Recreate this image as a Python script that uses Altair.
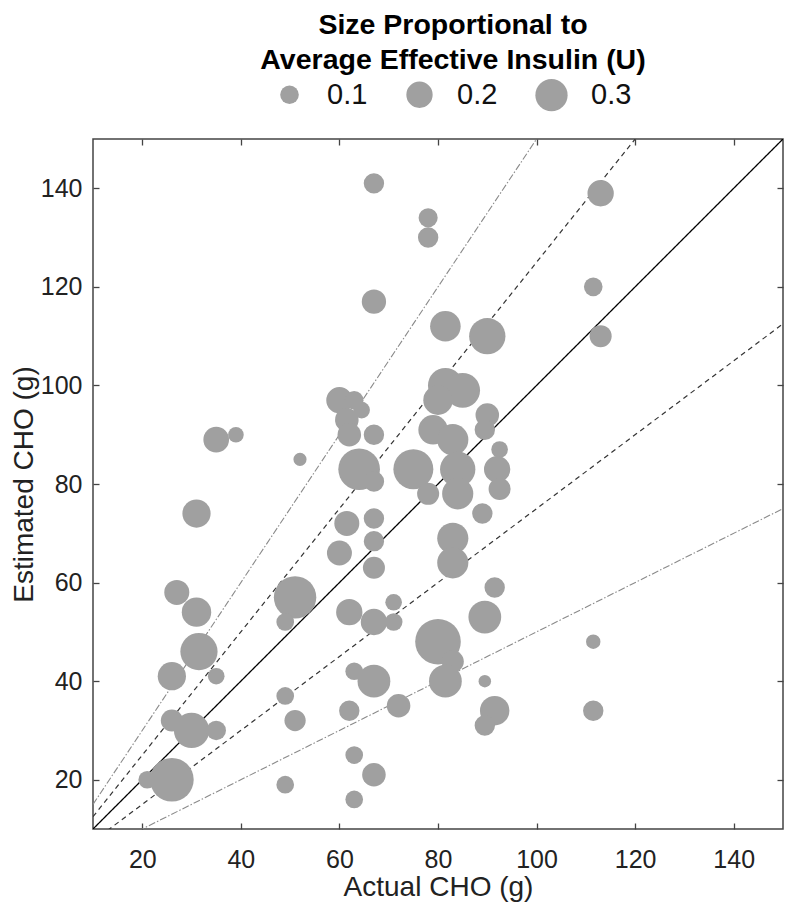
import altair as alt
import pandas as pd

# ---- data ----
actual = [21, 26, 26, 30, 35, 26, 31.5, 35, 31, 27, 31, 35, 39, 52, 51, 49, 49, 51, 49,
          62, 67, 71, 71, 80, 83, 81.5, 89.5, 89.5, 91.5, 89.5, 63, 67, 72, 62, 63, 67, 63,
          60, 63, 64.5, 61.5, 62, 67, 64, 67, 61.5, 67, 67, 67, 60, 75, 78,
          81.5, 85, 80, 79, 90, 89.5, 83, 84, 84, 92.5, 92, 92.5, 89, 83, 83, 91.5,
          67, 78, 78, 67, 81.5, 90, 113, 111.5, 113, 111.5, 111.5]
estimated = [20, 20, 32, 30, 30, 41, 46, 41, 54, 58, 74, 89, 90, 85, 57, 52, 37, 32, 19,
             54, 52, 52, 56, 48, 44, 40, 53, 40, 34, 31, 42, 40, 35, 34, 25, 21, 16,
             97, 97, 95, 93, 90, 90, 83, 80.5, 72, 73, 68.4, 63, 66, 83, 78,
             100, 99, 97, 91, 94, 91, 89, 83, 78, 87, 83, 79, 74, 69, 64, 59,
             141, 134, 130, 117, 112, 110, 139, 120, 110, 48, 34]
insulin = [0.09, 0.55, 0.14, 0.36, 0.11, 0.23, 0.40, 0.08, 0.25, 0.18, 0.23, 0.19, 0.07, 0.05, 0.52, 0.09, 0.09, 0.13, 0.09,
           0.20, 0.20, 0.09, 0.08, 0.60, 0.14, 0.31, 0.31, 0.045, 0.25, 0.12, 0.09, 0.31, 0.16, 0.12, 0.09, 0.16, 0.09,
           0.20, 0.10, 0.08, 0.16, 0.16, 0.12, 0.50, 0.12, 0.18, 0.12, 0.12, 0.14, 0.18, 0.46, 0.14,
           0.35, 0.35, 0.25, 0.25, 0.16, 0.12, 0.28, 0.36, 0.28, 0.08, 0.20, 0.14, 0.12, 0.28, 0.28, 0.12,
           0.12, 0.105, 0.12, 0.17, 0.27, 0.38, 0.20, 0.10, 0.14, 0.06, 0.12]

line_slopes = [0.5, 0.75, 1.0, 1.25, 1.5]
line_styles = ["outer", "inner", "identity", "inner", "outer"]
x_ends = [10, 150]
axis_ticks = [20, 40, 60, 80, 100, 120, 140]
legend_values = [0.1, 0.2, 0.3]

points = pd.DataFrame({"actual": actual, "estimated": estimated, "insulin": insulin})
lines_df = pd.DataFrame(
    [{"slope": s, "style": st, "x": x} for s, st in zip(line_slopes, line_styles) for x in x_ends]
)

FONT = "Liberation Sans"
xscale = alt.Scale(domain=[10, 150], nice=False, zero=False)
yscale = alt.Scale(domain=[10, 150], nice=False, zero=False)
style_domain = ["identity", "inner", "outer"]

lines = alt.Chart(lines_df).transform_calculate(
    y="datum.slope * datum.x"
).mark_line(clip=True).encode(
    x=alt.X("x:Q", scale=xscale, axis=None),
    y=alt.Y("y:Q", scale=yscale, axis=None),
    detail="slope:N",
    color=alt.Color("style:N", scale=alt.Scale(domain=style_domain, range=["#000000", "#333333", "#8a8a8a"]), legend=None),
    strokeDash=alt.StrokeDash("style:N", scale=alt.Scale(domain=style_domain, range=[[1, 0], [5, 4], [7, 2, 1.5, 2]]), legend=None),
    strokeWidth=alt.StrokeWidth("style:N", scale=alt.Scale(domain=style_domain, range=[1.3, 1.1, 1.0]), legend=None),
)

circles = alt.Chart(points).mark_circle(color="#a0a0a0", opacity=1).encode(
    x=alt.X("actual:Q", scale=xscale, title="Actual CHO (g)",
            axis=alt.Axis(orient="bottom", values=axis_ticks, offset=-6, tickSize=6, domain=False,
                          labelPadding=18, titlePadding=1, grid=False)),
    y=alt.Y("estimated:Q", scale=yscale, title="Estimated CHO (g)",
            axis=alt.Axis(orient="left", values=axis_ticks, offset=-6, tickSize=6, domain=False,
                          labelPadding=11, titlePadding=2, grid=False)),
    size=alt.Size("insulin:Q", scale=alt.Scale(domain=[0, 0.3], range=[0, 1040]),
                  legend=alt.Legend(
                      title=["Size Proportional to", "Average Effective Insulin (U)"],
                      orient="none", legendX=167, legendY=-128, direction="horizontal",
                      values=legend_values, format=".1f", symbolType="circle",
                      symbolFillColor="#a0a0a0", symbolStrokeWidth=0, symbolOpacity=1,
                      titleFontSize=28.5, titleFontWeight="bold", titleFont=FONT, titleColor="#000000",
                      titleAnchor="middle", titleAlign="center", titleLineHeight=35, titlePadding=4,
                      titleLimit=900, labelLimit=200,
                      labelFontSize=29, labelFont=FONT, labelColor="#111111",
                      labelOffset=23, columnPadding=37)),
)

ghost = alt.Chart(points).mark_circle(opacity=0).encode(
    x=alt.X("actual:Q", scale=xscale, title=None,
            axis=alt.Axis(orient="top", values=axis_ticks, offset=-6, tickSize=6, domain=False,
                          labels=False, grid=False)),
    y=alt.Y("estimated:Q", scale=yscale, title=None,
            axis=alt.Axis(orient="right", values=axis_ticks, offset=-6, tickSize=6, domain=False,
                          labels=False, grid=False)),
)

chart = alt.layer(lines, circles, ghost).resolve_axis(
    x="independent", y="independent"
).properties(
    width=690, height=690,
    autosize=alt.AutoSizeParams(type="none"),
    padding={"left": 85, "top": 131, "right": 1, "bottom": 78},
).configure_view(
    stroke="#444444", strokeWidth=1.5
).configure_axis(
    labelFont=FONT, titleFont=FONT, labelFontSize=25, titleFontSize=28,
    labelColor="#222222", titleColor="#222222", titleFontWeight="normal",
    tickColor="#444444", tickWidth=1.3,
)

chart.save("out.html", embed_options={"renderer": "svg", "actions": False})
